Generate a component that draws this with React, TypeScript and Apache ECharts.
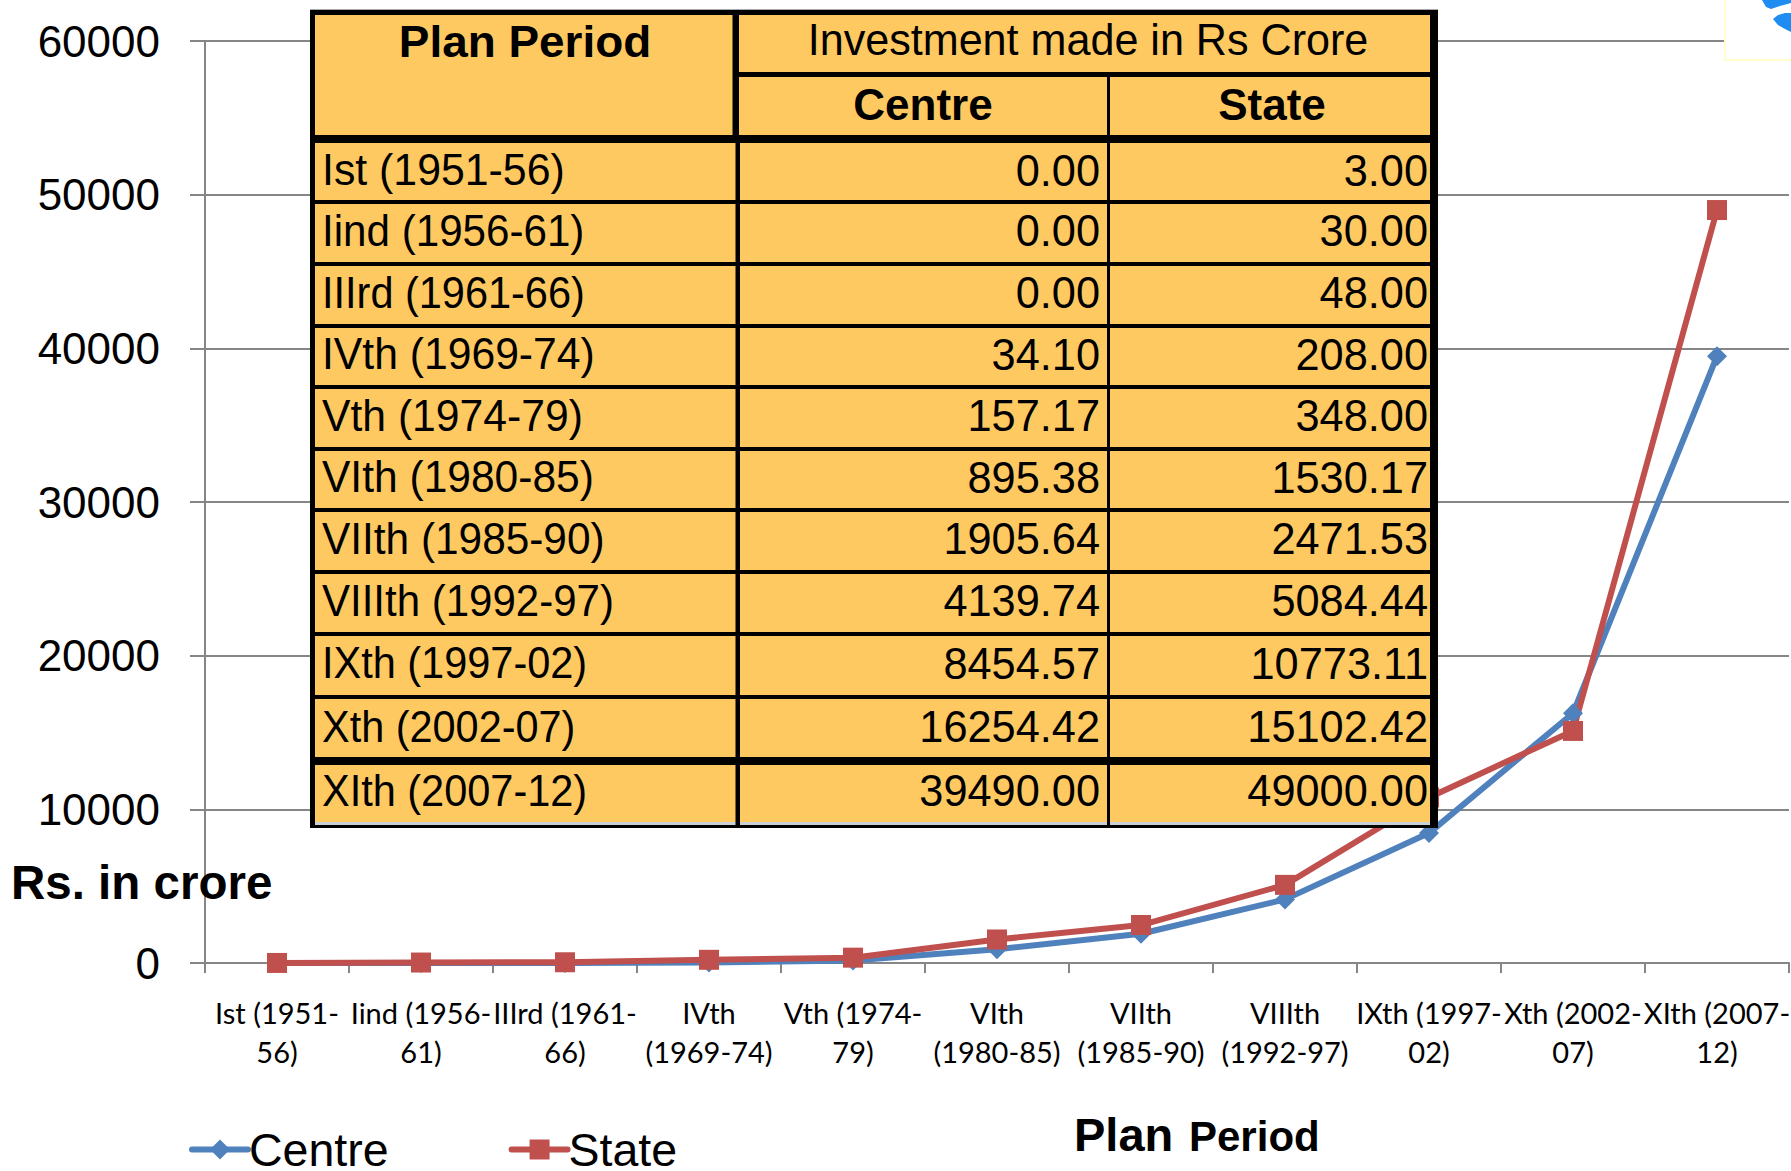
import React, { useEffect, useRef } from "react";
import * as echarts from "echarts";

const categories = ["Ist (1951-\n56)", "Iind (1956-\n61)", "IIIrd (1961-\n66)", "IVth\n(1969-74)", "Vth (1974-\n79)", "VIth\n(1980-85)", "VIIth\n(1985-90)", "VIIIth\n(1992-97)", "IXth (1997-\n02)", "Xth (2002-\n07)", "XIth (2007-\n12)"];
const planRows = ["Ist (1951-56)", "Iind (1956-61)", "IIIrd (1961-66)", "IVth (1969-74)", "Vth (1974-79)", "VIth (1980-85)", "VIIth (1985-90)", "VIIIth (1992-97)", "IXth (1997-02)", "Xth (2002-07)", "XIth (2007-12)"];
const centre = [0.0, 0.0, 0.0, 34.1, 157.17, 895.38, 1905.64, 4139.74, 8454.57, 16254.42, 39490.0];
const state = [3.0, 30.0, 48.0, 208.0, 348.0, 1530.17, 2471.53, 5084.44, 10773.11, 15102.42, 49000.0];
const rowLines = [202, 264, 326, 387, 449, 510, 572, 634, 697, 761, 825];
const rowScale = [0.973, 0.958, 0.943, 0.97, 0.97, 0.967, 0.963, 0.955, 0.943, 0.942, 0.943];

const FONT = "'Liberation Sans', Arial, sans-serif";
const BLACK = "#000";
const FILL = "#FFC962";

function buildTable(): any[] {
  const L = 310, R = 1438, T = 10, B = 828;
  const els: any[] = [];
  const rect = (x: number, y: number, w: number, h: number, fill: string) =>
    els.push({ type: "rect", shape: { x, y, width: w, height: h }, style: { fill }, z: 20 });
  const text = (x: number, y: number, t: string, align: string, size: number, weight = "normal", sx = 1) =>
    els.push({ type: "text", x, y, scaleX: sx, style: { text: t, align, verticalAlign: "middle", font: `${weight} ${size}px ${FONT}`, fill: BLACK }, z: 22 });
  rect(L, 9, R - L, 1, "#AAAAAA");
  rect(L, T, R - L, B - T, FILL);
  rect(L, 822, R - L, 3, "#C9D0D6");
  // outer border
  rect(L, T, 5, B - T, BLACK);
  rect(L, T, R - L, 5, BLACK);
  rect(L, B - 3, R - L, 3, BLACK);
  rect(R - 8, T, 8, B - T, BLACK);
  // header rules
  rect(732.5, T, 6.5, 127, BLACK);
  rect(737, 72, R - 737, 5, BLACK);
  rect(1107, 72, 3, 63, BLACK);
  rect(L, 135, R - L, 8, BLACK);
  // columns
  rect(735.5, 143, 4.5, B - 143, BLACK);
  rect(1107, 143, 3, B - 143, BLACK);
  // rows
  rowLines.forEach((y, i) => {
    const h = i === 9 ? 8 : 4;
    if (i < 10) rect(L, y - h / 2, R - L, h, BLACK);
  });
  text(525, 42, "Plan Period", "center", 45, "bold", 1.02);
  text(1088, 40, "Investment made in Rs Crore", "center", 44, "normal", 0.98);
  text(923, 104, "Centre", "center", 44, "bold");
  text(1272, 104, "State", "center", 44, "bold");
  const tops = [143, ...rowLines.slice(0, 10)];
  planRows.forEach((p, i) => {
    const cy = (tops[i] + rowLines[i]) / 2 - 2.5;
    text(322, cy, p, "left", 44, "normal", rowScale[i]);
    text(1100, cy, centre[i].toFixed(2), "right", 44, "normal", 0.985);
    text(1428, cy, state[i].toFixed(2), "right", 44, "normal", 0.985);
  });
  return els;
}

export default function App() {
  const ref = useRef<HTMLDivElement>(null);
  useEffect(() => {
    const chart = echarts.init(ref.current!, null, { renderer: "svg" });
    const lineSeries = (name: string, data: number[], color: string, symbol: string, size: number) => ({
      name, type: "line", data, symbol, symbolSize: size, showSymbol: true,
      lineStyle: { color, width: 6 }, itemStyle: { color }, z: 5,
    });
    chart.setOption({
      animation: false,
      backgroundColor: "#fff",
      grid: { left: 205, right: 2, top: 41, bottom: 208, containLabel: false, outerBoundsMode: "none" },
      legend: {
        left: 184, top: 1121, itemWidth: 56, itemHeight: 25, itemGap: 120,
        selectedMode: false,
        lineStyle: { width: 6, cap: "round" },
        textStyle: { fontFamily: FONT, fontSize: 46.5, lineHeight: 40, color: "#000", padding: [0, 0, 0, -4] },
        data: ["Centre", "State"],
      },
      xAxis: {
        type: "category", data: categories, boundaryGap: true,
        axisLine: { lineStyle: { color: "#868686", width: 2 } },
        axisTick: { show: true, length: 10, alignWithLabel: false, lineStyle: { color: "#868686", width: 2 } },
        axisLabel: { interval: 0, margin: 30, color: "#000", fontFamily: "Lato", fontSize: 29, lineHeight: 39, hideOverlap: false },
      },
      yAxis: {
        type: "value", min: 0, max: 60000, interval: 10000,
        axisLine: { show: true, lineStyle: { color: "#868686", width: 2 } },
        axisTick: { show: true, length: 15, lineStyle: { color: "#868686", width: 2 } },
        axisLabel: { margin: 45, color: "#000", fontFamily: FONT, fontSize: 44, formatter: (v: number) => String(v) },
        splitLine: { show: true, lineStyle: { color: "#868686", width: 2 } },
      },
      series: [
        lineSeries("Centre", centre, "#4F81BD", "diamond", 20),
        lineSeries("State", state, "#C0504D", "rect", 20),
      ],
      graphic: [
        ...buildTable(),
        { type: "rect", shape: { x: 1725, y: -2, width: 70, height: 62 }, style: { fill: "#fff", stroke: "#FFFFCC", lineWidth: 2 }, z: 15 },
        { type: "polygon", shape: { points: [[1762, 0], [1766, 7], [1771, 9], [1780, 6], [1791, 3], [1791, 0]] }, style: { fill: "#1E8CF0" }, z: 16 },
        { type: "polygon", shape: { points: [[1773, 19], [1778, 15], [1785, 13], [1791, 13], [1791, 32], [1785, 29], [1778, 25]] }, style: { fill: "#1E8CF0" }, z: 16 },
        { type: "text", x: 11, y: 882, style: { text: "Rs. in crore", align: "left", verticalAlign: "middle", font: `bold 47.5px ${FONT}`, fill: "#000" }, z: 25 },
        { type: "text", x: 1074, y: 1134, style: { text: "Plan", align: "left", verticalAlign: "middle", font: `bold 47px ${FONT}`, fill: "#000" }, z: 25 },
        { type: "text", x: 1189, y: 1136, style: { text: "Period", align: "left", verticalAlign: "middle", font: `bold 42px ${FONT}`, fill: "#000" }, z: 25 },
      ],
    });
    return () => chart.dispose();
  }, []);
  return <div ref={ref} style={{ position: "absolute", left: 0, top: 0, width: 1791, height: 1171 }} />;
}
